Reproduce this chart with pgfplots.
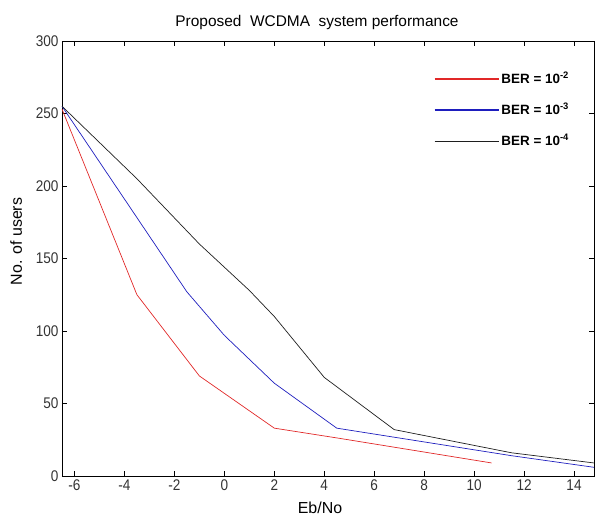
\documentclass[border=0pt]{standalone}
\usepackage{pgfplots}
\pgfplotsset{compat=1.18}
\usepackage{fontspec}
\setmainfont{Liberation Sans}
\newfontfamily\tickfont[FakeStretch=0.88]{Liberation Sans}
\usetikzlibrary{calc}
\definecolor{myred}{RGB}{225,40,40}
\definecolor{myblue}{RGB}{30,30,190}
\definecolor{myblack}{RGB}{30,30,30}
\tikzset{
  lgd/.style={line width=1.1pt},
  lgdtext/.style={pos=1, anchor=base west, inner sep=1.5bp, yshift=-4.8bp, text=black,
    font=\bfseries\fontsize{13.5}{14}\selectfont},
}
\begin{document}
\begin{tikzpicture}
\begin{axis}[
  width=532bp, height=435bp, scale only axis,
  xmin=-6.5, xmax=14.8, ymin=0, ymax=300,
  xtick={-6,-4,...,14}, ytick={0,50,...,300},
  tick align=inside, major tick length=5bp,
  tick style={black, line width=0.6pt},
  axis line style={line width=0.8pt},
  /pgf/number format/assume math mode=true,
  ticklabel style={font=\tickfont\fontsize{15.5}{16}\selectfont, text=black!80},
  title={Proposed\ \ WCDMA\ \ system performance},
  title style={font=\fontsize{15.5}{16}\selectfont, yshift=2bp, xshift=-11bp},
  xlabel={Eb/No}, ylabel={No. of users},
  label style={font=\fontsize{16}{17}\selectfont},
  xlabel style={yshift=-5bp, xshift=-8bp},
  ylabel style={yshift=7bp, xshift=17bp},
]
\addplot[color=myred, line width=0.7pt] coordinates {
(-6.5,253) (-3.5,125) (-1,69) (2,33) (4.6,26) (10.7,9)};
\addplot[color=myblue, line width=0.7pt] coordinates {
(-6.5,255) (-1.5,127) (0,97) (2,64) (4.5,33) (11.5,14) (14.8,6)};
\addplot[color=myblack, line width=0.7pt] coordinates {
(-6.5,255) (-3.5,205) (-1,160) (1,128) (2,110) (4,68) (6.8,32) (11.5,16) (14.8,9)};
% legend
\addplot[color=myred, lgd] coordinates {(8.42,273.8) (11.01,273.8)}
  node[lgdtext] {BER = 10\textsuperscript{-2}};
\addplot[color=myblue, lgd] coordinates {(8.42,252.4) (11.01,252.4)}
  node[lgdtext] {BER = 10\textsuperscript{-3}};
\addplot[color=myblack, lgd] coordinates {(8.42,231) (11.01,231)}
  node[lgdtext] {BER = 10\textsuperscript{-4}};
\end{axis}
\pgfresetboundingbox
\path[use as bounding box] ($(current axis.south west)+(-62bp,-42bp)$) rectangle ($(current axis.north east)+(1bp,41bp)$);
\end{tikzpicture}
\end{document}
